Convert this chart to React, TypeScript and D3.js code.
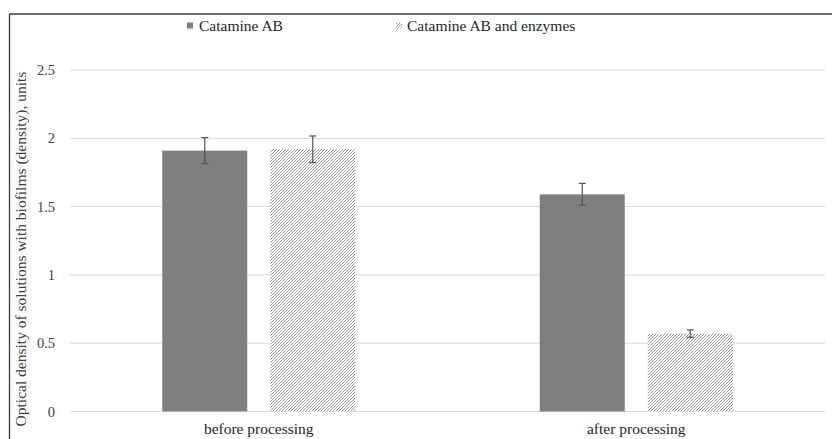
import React from "react";
import * as d3 from "d3";

const categories = ["before processing", "after processing"];
const seriesNames = ["Catamine AB", "Catamine AB and enzymes"];
const catamineAB = [1.91, 1.59];
const catamineEnzymes = [1.92, 0.57];
const errCatamineAB = [0.095, 0.08];
const errCatamineEnzymes = [0.097, 0.027];
const yTicks = [0, 0.5, 1, 1.5, 2, 2.5];
const yTickLabels = ["0", "0.5", "1", "1.5", "2", "2.5"];

const W = 832;
const H = 439;
const FONT = "'Liberation Serif', 'DejaVu Serif', serif";

export default function App() {
  const plotLeft = 70;
  const plotRight = 825;
  const y = d3.scaleLinear().domain([0, 2.5]).range([411.5, 70]);
  const x0 = d3.scaleBand().domain(categories).range([plotLeft, plotRight]).paddingInner(0).paddingOuter(0);
  const barW = 85;
  const gap = 23;
  const series = [
    { name: seriesNames[0], vals: catamineAB, errs: errCatamineAB },
    { name: seriesNames[1], vals: catamineEnzymes, errs: errCatamineEnzymes },
  ];
  const groupW = barW * 2 + gap;

  return (
    <div style={{ position: "absolute", left: 0, top: 0, margin: 0 }}>
      <svg width={W} height={H} style={{ display: "block", background: "#fff" }}>
        <defs>
          <pattern id="hatch" patternUnits="userSpaceOnUse" width="3" height="3">
            <rect width="3" height="3" fill="#fff" />
            <path d="M-1,1 L1,-1 M0,3 L3,0 M2,4 L4,2" stroke="#858585" strokeWidth="0.85" />
          </pattern>
        </defs>
        {/* frame */}
        <line x1={9.5} y1={14} x2={W} y2={14} stroke="#3a3a3a" strokeWidth={1.3} />
        <line x1={9.5} y1={14} x2={9.5} y2={H} stroke="#3a3a3a" strokeWidth={1.3} />

        {/* gridlines */}
        {yTicks.map((t, i) => (
          <g key={i}>
            <line x1={plotLeft} x2={plotRight} y1={y(t)} y2={y(t)} stroke="#d9d9d9" strokeWidth={1} />
            <text x={55} y={y(t)} dy="0.35em" textAnchor="end" fontFamily={FONT} fontSize={14.5} fill="#404040">
              {yTickLabels[i]}
            </text>
          </g>
        ))}

        {/* bars */}
        {categories.map((c, ci) => {
          const gx = (x0(c) as number) + x0.bandwidth() / 2 - groupW / 2;
          return (
            <g key={c}>
              {series.map((s, si) => {
                const bx = gx + (si === 0 ? 0 : barW + gap);
                const cx = bx + barW / 2;
                const v = s.vals[ci];
                const e = s.errs[ci];
                return (
                  <g key={si}>
                    <rect x={bx} y={y(v)} width={barW} height={y(0) - y(v)} fill={si === 0 ? "#7f7f81" : "url(#hatch)"} />
                    <line x1={cx} x2={cx} y1={y(v + e)} y2={y(v - e)} stroke="#555" strokeWidth={1.2} />
                    <line x1={cx - 3.5} x2={cx + 3.5} y1={y(v + e)} y2={y(v + e)} stroke="#555" strokeWidth={1.2} />
                    <line x1={cx - 3.5} x2={cx + 3.5} y1={y(v - e)} y2={y(v - e)} stroke="#555" strokeWidth={1.2} />
                  </g>
                );
              })}
              <text x={(x0(c) as number) + x0.bandwidth() / 2} y={434} textAnchor="middle" fontFamily={FONT} fontSize={15.5} fill="#262626">
                {c}
              </text>
            </g>
          );
        })}

        {/* y axis title */}
        <text transform={`translate(26, 249) rotate(-90)`} textAnchor="middle" fontFamily={FONT} fontSize={15.5} fill="#404040">
          Optical density of solutions with biofilms (density), units
        </text>

        {/* legend */}
        <rect x={187} y={22.5} width={6} height={6} fill="#7f7f81" />
        <text x={199} y={31} fontFamily={FONT} fontSize={15.5} fill="#262626">{seriesNames[0]}</text>
        <rect x={396} y={22.5} width={6} height={6} fill="url(#hatch)" />
        <text x={407} y={31} fontFamily={FONT} fontSize={15.5} fill="#262626">{seriesNames[1]}</text>
      </svg>
    </div>
  );
}
